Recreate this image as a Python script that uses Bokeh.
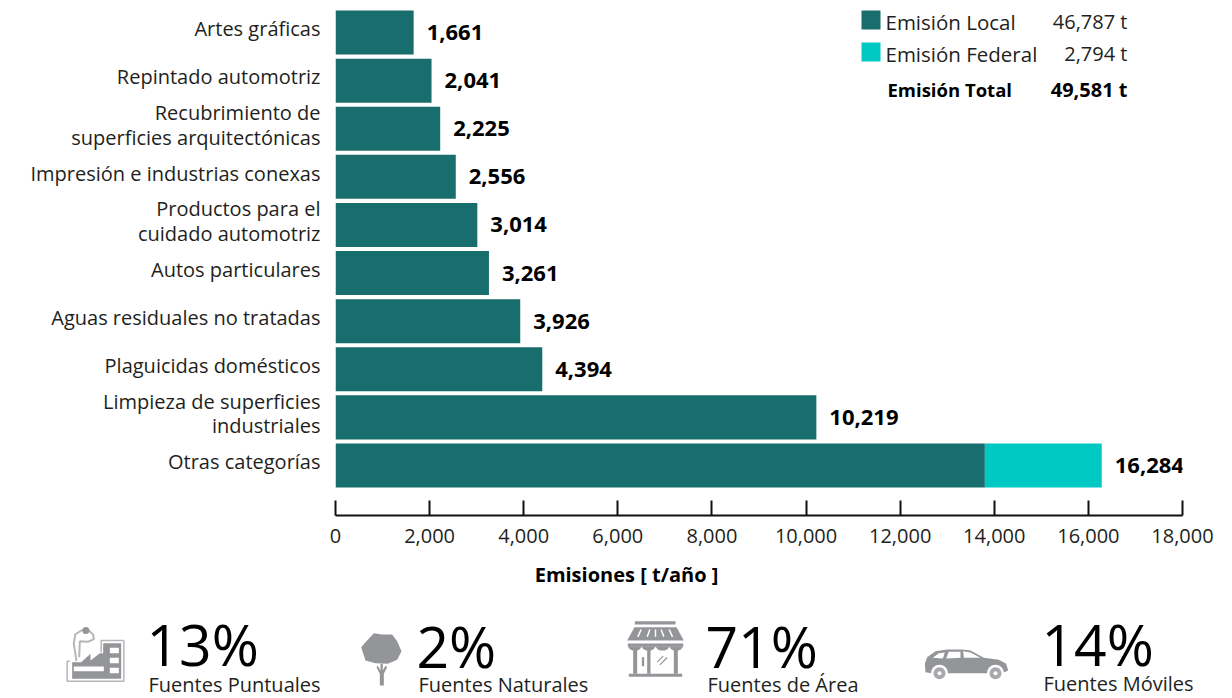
from bokeh.embed import file_html
from bokeh.resources import INLINE
from bokeh.plotting import figure
from bokeh.layouts import column
from bokeh.models import (BoxAnnotation, ColumnDataSource, Range1d, FixedTicker, Label, LabelSet,
                          NumeralTickFormatter)
from bokeh.core.properties import value

# Emissions by category (t/year)
categories = ["Artes gráficas", "Repintado automotriz",
              "Recubrimiento de\nsuperficies arquitectónicas",
              "Impresión e industrias conexas",
              "Productos para el\ncuidado automotriz", "Autos particulares",
              "Aguas residuales no tratadas", "Plaguicidas domésticos",
              "Limpieza de superficies\nindustriales", "Otras categorías"]
totals = [1661, 2041, 2225, 2556, 3014, 3261, 3926, 4394, 10219, 16284]
federal = [0, 0, 0, 0, 0, 0, 0, 0, 0, 2484]
x_ticks = [0, 2000, 4000, 6000, 8000, 10000, 12000, 14000, 16000, 18000]

legend_names = ["Emisión Local", "Emisión Federal"]
legend_values = ["46,787 t", "2,794 t"]
total_name = "Emisión Total"
total_value = "49,581 t"

source_shares = [13, 2, 71, 14]
source_names = ["Fuentes Puntuales", "Fuentes Naturales", "Fuentes de Área", "Fuentes Móviles"]

FONT = "Open Sans"
INK = "#231f20"
DARK = "#186e6c"
CYAN = "#00c9c3"
GRAY = "#939598"

local = [t - f for t, f in zip(totals, federal)]
positions = list(range(len(categories)))
label_shift = 0.08
label_ticks = [round(i - label_shift, 2) for i in positions]

source = ColumnDataSource(dict(y=positions, local=local, federal=federal, total=totals,
                               text=[f"{t:,}" for t in totals]))

p = figure(width=1232, height=555, output_backend="svg", toolbar_location=None,
           x_range=Range1d(0, 18000), y_range=Range1d(10.04, -0.5),
           min_border_left=335, min_border_right=50, min_border_top=8, min_border_bottom=40,
           outline_line_color=None, background_fill_color="white", border_fill_color="white",
           frame_align=False)
p.grid.visible = False

p.hbar_stack(["local", "federal"], y="y", height=0.915, color=[DARK, CYAN],
             line_color=None, source=source)

xa = p.xaxis[0]
xa.ticker = FixedTicker(ticks=x_ticks)
xa.formatter = NumeralTickFormatter(format="0,0")
xa.major_tick_in = 15
xa.major_tick_out = 0
xa.minor_tick_line_color = None
xa.axis_line_color = "#111111"
xa.axis_line_width = 2
xa.major_tick_line_color = "#111111"
xa.major_tick_line_width = 2
xa.major_label_text_font = FONT
xa.major_label_text_font_size = "20px"
xa.major_label_text_color = INK
xa.major_label_standoff = 13

ya = p.yaxis[0]
ya.ticker = FixedTicker(ticks=label_ticks)
ya.major_label_overrides = dict(zip(label_ticks, categories))
ya.axis_line_color = None
ya.major_tick_line_color = None
ya.minor_tick_line_color = None
ya.major_tick_in = 0
ya.major_tick_out = 0
ya.major_label_standoff = 15
ya.major_label_text_font = FONT
ya.major_label_text_font_size = "20px"
ya.major_label_text_color = INK
ya.major_label_text_line_height = 0.9

p.add_layout(LabelSet(x="total", y="y", text="text", source=source, x_offset=13,
                      text_baseline="middle", text_font=value(FONT), text_font_style="bold",
                      text_font_size="22px", text_color="#000000"))


def page_label(x, y, text, align="left", size="20px", style="normal", color=INK):
    p.add_layout(Label(x=x, y=y, x_units="canvas", y_units="canvas", text=text,
                       text_align=align, text_baseline="middle", text_font=FONT,
                       text_font_size=size, text_font_style=style, text_color=color))


def swatch(top, color):
    p.add_layout(BoxAnnotation(left=861, right=880, top=top, bottom=top + 19,
                               left_units="canvas", right_units="canvas",
                               top_units="canvas", bottom_units="canvas",
                               fill_color=color, fill_alpha=1, line_color=None))


# Legend block with the totals per emission type
swatch(10, DARK)
swatch(42, CYAN)
page_label(885, 21, legend_names[0], size="20.5px")
page_label(885, 53, legend_names[1], size="20.5px")
page_label(1127, 21, legend_values[0], align="right")
page_label(1127, 53, legend_values[1], align="right")
page_label(887, 89, total_name, size="18.5px", style="bold", color="#000000")
page_label(1127, 89, total_value, align="right", style="bold", color="#000000")

# Lower strip: axis title plus icon and share for every source type, laid out in page pixels
q = figure(width=1232, height=143, output_backend="svg", toolbar_location=None,
           x_range=Range1d(0, 1232), y_range=Range1d(698, 555),
           min_border=0, outline_line_color=None, border_fill_color="white", frame_align=False)
q.axis.visible = False
q.grid.visible = False

q.text(x=[626], y=[574], text=["Emisiones [ t/año ]"], text_font=value(FONT), text_font_style="bold",
       text_font_size="20px", text_color="#000000", text_align="center", text_baseline="middle")

share_x = [146, 416, 705, 1041]
share_mid = [643, 645, 645, 643]
name_x = [148, 418, 707, 1043]
name_mid = [684, 684, 684, 683]
q.text(x=share_x, y=share_mid, text=[f"{s}%" for s in source_shares], text_font=value(FONT),
       text_font_size="57px", text_color="#000000", text_baseline="middle")
q.text(x=name_x, y=name_mid, text=source_names, text_font=value(FONT),
       text_font_size="20px", text_color=INK, text_baseline="middle")


def place(ox, oy, pts):
    return [ox + a / 3 for a, _ in pts], [oy + b / 3 for _, b in pts]


def shape(ox, oy, pts, color=GRAY):
    xs, ys = place(ox, oy, pts)
    q.patch(xs, ys, color=color, line_color=None)


def box(ox, oy, x0, y0, x1, y1, color=GRAY):
    shape(ox, oy, [(x0, y0), (x1, y0), (x1, y1), (x0, y1)], color)


def stroke(ox, oy, pts, width=1.5, color=GRAY):
    xs, ys = place(ox, oy, pts)
    q.line(xs, ys, line_color=color, line_width=width)


# Factory
FX, FY = 60, 620
stroke(FX, FY, [(28, 122), (20, 122), (20, 182), (190, 182), (190, 60), (122, 60), (122, 95)], 1.5, "#b5b6b8")
shape(FX, FY, [(35, 175), (35, 125), (62, 125), (90, 100), (90, 120), (118, 98), (128, 98),
               (128, 68), (182, 68), (182, 175)])
box(FX, FY, 148, 82, 175, 98, "white")
box(FX, FY, 148, 112, 175, 128, "white")
box(FX, FY, 148, 142, 175, 158, "white")
box(FX, FY, 40, 138, 130, 152, "white")
stroke(FX, FY, [(48, 122), (40, 70), (44, 42), (62, 30), (82, 28), (98, 42), (100, 56), (82, 64), (58, 62), (56, 110)],
       2, "#b5b6b8")
q.scatter([60 + 76 / 3], [620 + 30 / 3], size=7, color=GRAY, line_color=None)

# Tree
TX, TY = 350, 620
shape(TX, TY, [(70, 38), (95, 42), (125, 42), (140, 62), (153, 92), (140, 118), (112, 130), (75, 128),
               (45, 120), (32, 80), (45, 65)])
shape(TX, TY, [(88, 195), (100, 195), (100, 160), (110, 140), (105, 136), (97, 150), (97, 130), (90, 130),
               (90, 150), (82, 136), (78, 140), (88, 160)])

# Storefront
SX, SY = 620, 615
box(SX, SY, 43, 17, 165, 27)
shape(SX, SY, [(42, 35), (168, 35), (190, 75), (20, 75)])
for a, b in [((62, 42), (52, 64)), ((88, 42), (80, 64)), ((105, 42), (105, 64)), ((122, 42), (130, 64)), ((146, 42), (156, 64))]:
    stroke(SX, SY, [a, b], 1.5, "white")
box(SX, SY, 22, 84, 188, 94)
for c in (43, 84, 126, 167):
    shape(SX, SY, [(c - 21, 93), (c - 15, 101), (c - 7, 105), (c + 7, 105), (c + 15, 101), (c + 21, 93)])
box(SX, SY, 38, 100, 50, 175)
box(SX, SY, 80, 100, 90, 175)
box(SX, SY, 160, 100, 172, 175)
box(SX, SY, 25, 175, 185, 184)
box(SX, SY, 64, 125, 71, 152)
stroke(SX, SY, [(110, 140), (128, 122)], 1.2)
stroke(SX, SY, [(118, 148), (140, 126)], 1.2)

# Car
CX, CY = 915, 630
shape(CX, CY, [(28, 100), (35, 80), (60, 62), (95, 57), (140, 57), (165, 60), (205, 82), (250, 88),
               (272, 100), (278, 120), (260, 128), (50, 128), (30, 125)])
shape(CX, CY, [(52, 82), (70, 68), (88, 66), (82, 84)], "white")
shape(CX, CY, [(92, 84), (100, 64), (135, 64), (135, 82)], "white")
shape(CX, CY, [(145, 82), (143, 62), (165, 66), (195, 82)], "white")
wheel_x = [915 + 72 / 3, 915 + 240 / 3]
wheel_y = [630 + 128 / 3] * 2
q.scatter(wheel_x, wheel_y, size=17, color="white", line_color=None)
q.scatter(wheel_x, wheel_y, size=12, color="#a7a9ac", line_color=None)
q.scatter(wheel_x, wheel_y, size=4, color="white", line_color=None)

page = column(p, q, spacing=0)
open("out.html", "w").write(file_html(page, INLINE))
